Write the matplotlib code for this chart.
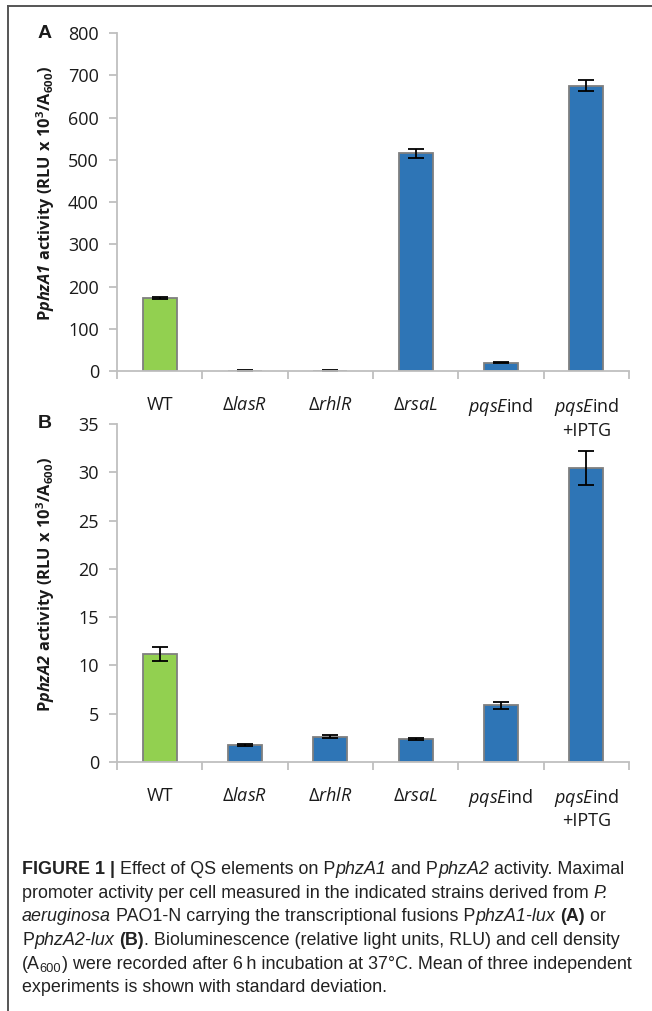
import matplotlib
matplotlib.use('Agg')
import matplotlib.pyplot as plt
from matplotlib.lines import Line2D
import numpy as np

# ---------------- data ----------------
categories = ['WT', 'ΔlasR', 'ΔrhlR', 'ΔrsaL', 'pqsEind', 'pqsEind +IPTG']
tick_labels = [r'WT', r'$\Delta\mathit{lasR}$', r'$\Delta\mathit{rhlR}$',
               r'$\Delta\mathit{rsaL}$', r'$\mathit{pqsE}$ind', '$\\mathit{pqsE}$ind\n+IPTG']
phzA1_mean = [173, 1, 1, 515, 19, 675]
phzA1_sd = [3, 0.4, 0.4, 10, 1.2, 13]
phzA2_mean = [11.2, 1.76, 2.62, 2.41, 5.86, 30.45]
phzA2_sd = [0.7, 0.1, 0.15, 0.12, 0.34, 1.8]
bar_colors = ['#92D050', '#2E75B6', '#2E75B6', '#2E75B6', '#2E75B6', '#2E75B6']
yticks_A = [0, 100, 200, 300, 400, 500, 600, 700, 800]
yticks_B = [0, 5, 10, 15, 20, 25, 30, 35]

# ---------------- style ----------------
FONT = 'Open Sans'
plt.rcParams['font.family'] = [FONT, 'DejaVu Sans']
plt.rcParams['mathtext.fontset'] = 'custom'
plt.rcParams['mathtext.rm'] = FONT
plt.rcParams['mathtext.it'] = FONT + ':italic'
plt.rcParams['mathtext.bf'] = FONT + ':bold'
plt.rcParams['mathtext.bfit'] = FONT + ':italic:bold'

W, H = 652, 1011
fig = plt.figure(figsize=(W / 100, H / 100), dpi=100)
fig.patch.set_facecolor('white')

AX_L, AX_R = 117, 629
SPINE = '#BFBFBF'
TXT = '#1a1a1a'


def fx(px):
    return px / W


def fy(py):
    return 1 - py / H


def make_panel(top_px, bot_px, means, sds, yticks, ylabel, letter):
    ax = fig.add_axes([fx(AX_L), fy(bot_px), fx(AX_R - AX_L), (bot_px - top_px) / H])
    ax.patch.set_alpha(0)
    x = np.arange(len(means))
    ax.bar(x, means, width=0.4, color=bar_colors, edgecolor='#7F7F7F', linewidth=1.3,
           yerr=sds, error_kw=dict(ecolor='black', elinewidth=1.3, capsize=5.5, capthick=1.3),
           zorder=2)
    ax.set_xlim(-0.5, len(means) - 0.5)
    ax.set_ylim(yticks[0], yticks[-1])
    ax.set_yticks(yticks)
    ax.set_yticklabels([str(t) for t in yticks])
    ax.set_xticks(x)
    ax.set_xticklabels(tick_labels)
    ax.set_xticks(np.arange(-0.5, len(means), 1.0), minor=True)
    for s in ['top', 'right']:
        ax.spines[s].set_visible(False)
    for s in ['left', 'bottom']:
        ax.spines[s].set_color(SPINE)
        ax.spines[s].set_linewidth(1.3)
    ax.tick_params(axis='y', direction='out', length=6, width=1.3, color=SPINE,
                   labelsize=13, labelcolor=TXT, pad=7)
    ax.tick_params(axis='x', which='major', length=0, labelsize=13, labelcolor=TXT, pad=18)
    ax.tick_params(axis='x', which='minor', direction='out', length=6, width=1.3, color=SPINE)
    for lab in ax.get_xticklabels():
        lab.set_verticalalignment('top')
        lab.set_linespacing(1.25)
    mid = (top_px + bot_px) / 2 - 9
    fig.text(fx(46), fy(mid), ylabel, rotation=90, ha='center', va='center',
             fontsize=11.8, color=TXT)
    fig.text(fx(45), fy(top_px), letter, ha='center', va='center', fontsize=14,
             fontweight='bold', family='Liberation Sans', color=TXT)
    return ax


make_panel(33, 371, phzA1_mean, phzA1_sd, yticks_A,
           r'$\mathbf{P}\mathbfit{phzA1}\mathbf{\ activity\ (RLU\ x\ 10^{3}/A_{600})}$', 'A')
make_panel(424, 762, phzA2_mean, phzA2_sd, yticks_B,
           r'$\mathbf{P}\mathbfit{phzA2}\mathbf{\ activity\ (RLU\ x\ 10^{3}/A_{600})}$', 'B')

# frame lines
fig.add_artist(Line2D([fx(8), 1], [fy(6), fy(6)], transform=fig.transFigure,
                      color='#555555', lw=1.4))
fig.add_artist(Line2D([fx(8), fx(8)], [fy(6), fy(1011)], transform=fig.transFigure,
                      color='#555555', lw=1.4))

# ---------------- caption ----------------
renderer = fig.canvas.get_renderer()
CAP_FONT = 'Liberation Sans'
CAP_SIZE = 12.9
CAP_COLOR = '#222222'


def twidth(s, **kw):
    t1 = fig.text(0, 0, 'x' + s + 'x', **kw)
    w1 = t1.get_window_extent(renderer).width
    t1.remove()
    t0 = fig.text(0, 0, 'xx', **kw)
    w0 = t0.get_window_extent(renderer).width
    t0.remove()
    return w1 - w0


def draw_runs(x_px, y_px, runs):
    x = x_px
    for run in runs:
        s = run[0]
        style = run[1] if len(run) > 1 else ''
        kw = dict(family=CAP_FONT, fontsize=CAP_SIZE, color=CAP_COLOR)
        dy = 0
        if 'b' in style:
            kw['fontweight'] = 'bold'
        if 'i' in style:
            kw['fontstyle'] = 'italic'
        if 's' in style:
            kw['fontsize'] = CAP_SIZE * 0.72
            dy = 3.5
        fig.text(fx(x), fy(y_px + dy), s, ha='left', va='baseline', **kw)
        x += twidth(s, **kw)


lines = [
    [('FIGURE 1 | ', 'b'), ('Effect of QS elements on P',), ('phzA1', 'i'), (' and P',),
     ('phzA2', 'i'), (' activity. Maximal',)],
    [('promoter activity per cell measured in the indicated strains derived from ',), ('P.', 'i')],
    [('aeruginosa', 'i'), (' PAO1-N carrying the transcriptional fusions P',), ('phzA1-lux', 'i'),
     (' ',), ('(A)', 'b'), (' or',)],
    [('P',), ('phzA2-lux', 'i'), (' ',), ('(B)', 'b'),
     ('. Bioluminescence (relative light units, RLU) and cell density',)],
    [('(A',), ('600', 's'), (') were recorded after 6\u2009h incubation at 37\u00b0C. Mean of three independent',)],
    [('experiments is shown with standard deviation.',)],
]
base = 874
for i, ln in enumerate(lines):
    draw_runs(22, base + i * 23.7, ln)

fig.savefig('out.png', dpi=100, facecolor='white')
